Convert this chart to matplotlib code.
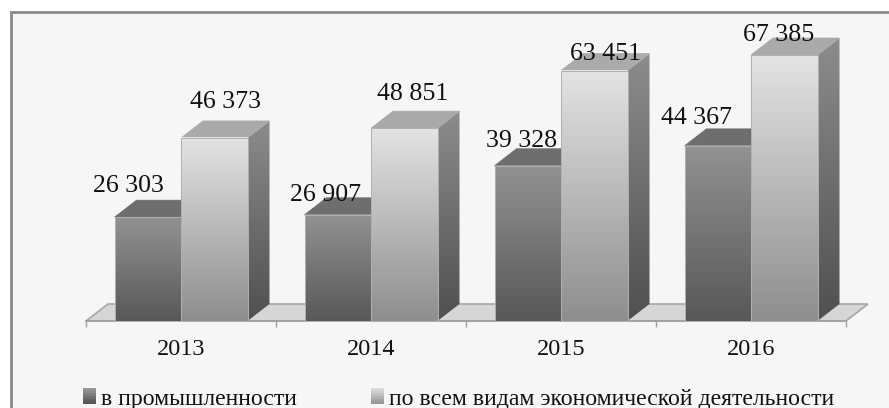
import numpy as np
import matplotlib
matplotlib.use("Agg")
import matplotlib.pyplot as plt
from matplotlib.patches import Polygon, Rectangle
from matplotlib.legend_handler import HandlerBase
from matplotlib.colors import LinearSegmentedColormap

years = ["2013", "2014", "2015", "2016"]
industry = [26303, 26907, 39328, 44367]
all_activities = [46373, 48851, 63451, 67385]
labels_industry = ["26 303", "26 907", "39 328", "44 367"]
labels_all = ["46 373", "48 851", "63 451", "67 385"]
series_names = ["в промышленности", "по всем видам экономической деятельности"]

plt.rcParams["font.family"] = ["Liberation Serif", "DejaVu Serif"]
W, H = 889, 408
fig = plt.figure(figsize=(W / 100, H / 100), dpi=100, facecolor="white")

# background panel with frame
bg = fig.add_axes([0, 0, 1, 1], zorder=0)
bg.set_xlim(0, W); bg.set_ylim(H, 0); bg.axis("off")
bg.add_patch(Rectangle((11, 11.5), W, H, fc="#f6f6f6", ec="#8a8a8a", lw=2))

PX_Y = 266 / 67385       # pixels per value unit
left, right, base, top = 86, 846, 321, 12
ax = fig.add_axes([left / W, 1 - base / H, (right - left) / W, (base - top) / H], zorder=1)
ax.patch.set_alpha(0)
ax.set_xlim(-0.5, 3.5)
ax.set_ylim(0, (base - top) / PX_Y)
px_x = 1 / 190.0
dx = 22 * px_x
dy = 17 / PX_Y
w = 66.5 * px_x

def cmap(a, b):
    return LinearSegmentedColormap.from_list("g", [a, b])

def grad(x0, x1, y0, y1, a, b, clip=None, z=2):
    im = ax.imshow(np.linspace(0, 1, 128)[:, None], cmap=cmap(a, b), vmin=0, vmax=1,
                   extent=(x0, x1, y0, y1), aspect="auto", origin="upper",
                   zorder=z, clip_on=False if clip is None else True, interpolation="bilinear")
    if clip is not None:
        clip.set_transform(ax.transData)
        im.set_clip_path(clip)

# floor
ax.add_patch(Polygon([(-0.5, 0), (-0.5 + dx, dy), (3.5 + dx, dy), (3.5, 0)],
                     fc="#d6d6d6", ec="#a6a6a6", lw=1.2, zorder=1, clip_on=False))

def bar(x, v, front, side, topc, z):
    x1 = x + w
    if side is not None:
        poly = Polygon([(x1, 0), (x1 + dx, dy), (x1 + dx, v + dy), (x1, v)], closed=True)
        grad(x1, x1 + dx, 0, v + dy, side[0], side[1], clip=poly, z=z)
    ax.add_patch(Polygon([(x, v), (x + dx, v + dy), (x1 + dx, v + dy), (x1, v)],
                         fc=topc, ec=topc, lw=0.5, zorder=z, clip_on=False))
    grad(x, x1, 0, v, front[0], front[1], z=z + 0.1)
    ax.add_patch(Rectangle((x, 0), w, v, fc="none", ec="#b0b0b0", lw=0.7, zorder=z + 0.2, clip_on=False))

for i in range(4):
    bar(i - w, industry[i], ("#929292", "#585858"), None, "#6e6e6e", 2 + i)
    bar(i, all_activities[i], ("#e3e3e3", "#8e8e8e"), ("#8c8c8c", "#505050"), "#aaaaaa", 2.5 + i)

# value labels, offset in pixels from the bar's front-top-centre
off_ind = [(-19, 25), (-12, 14), (-6, 19), (-21, 22)]
off_all = [(11, 30), (8, 28), (11, 11), (-6, 14)]
for i in range(4):
    ax.annotate(labels_industry[i], (i - w / 2, industry[i]), xytext=off_ind[i],
                textcoords="offset pixels", ha="center", va="baseline",
                fontsize=18.6, color="#111111", zorder=20)
    ax.annotate(labels_all[i], (i + w / 2, all_activities[i]), xytext=off_all[i],
                textcoords="offset pixels", ha="center", va="baseline",
                fontsize=18.6, color="#111111", zorder=20)

# axis
for s in ["top", "left", "right"]:
    ax.spines[s].set_visible(False)
ax.spines["bottom"].set_color("#a0a0a0"); ax.spines["bottom"].set_linewidth(1.2)
ax.spines["bottom"].set_zorder(1.5)
ax.set_yticks([])
ax.set_xticks(np.arange(-0.5, 4, 1)); ax.set_xticklabels([])
ax.tick_params(axis="x", length=4.5, width=1, color="#a0a0a0")
ax.set_xticks(range(4), minor=True)
ax.set_xticklabels(years, minor=True, fontsize=17.5, color="#111111")
ax.tick_params(axis="x", which="minor", length=0, pad=13)

class GradHandler(HandlerBase):
    def __init__(self, a, b):
        super().__init__(); self.a, self.b = a, b
    def create_artists(self, legend, orig, xd, yd, width, height, fontsize, trans):
        n = 10; cm = cmap(self.a, self.b); out = []
        for k in range(n):
            out.append(Rectangle((-xd, -yd + height * 1.05 * (1 - (k + 1) / n)), width, height * 1.05 / n * 1.1,
                                 fc=cm(k / (n - 1)), ec="none", transform=trans))
        return out

h1 = Rectangle((0, 0), 1, 1, label=series_names[0])
h2 = Rectangle((0, 0), 1, 1, label=series_names[1])
leg = fig.legend(handles=[h1, h2], ncol=2, frameon=False, fontsize=17.1,
                 loc="lower left", bbox_to_anchor=(83 / W, -0.004), borderaxespad=0, borderpad=0,
                 handlelength=0.55, handleheight=0.6, handletextpad=0.22, columnspacing=3.1,
                 labelcolor="#111111",
                 handler_map={h1: GradHandler("#999999", "#555555"), h2: GradHandler("#dddddd", "#999999")})
fig.savefig("out.png", dpi=100, facecolor="white")
